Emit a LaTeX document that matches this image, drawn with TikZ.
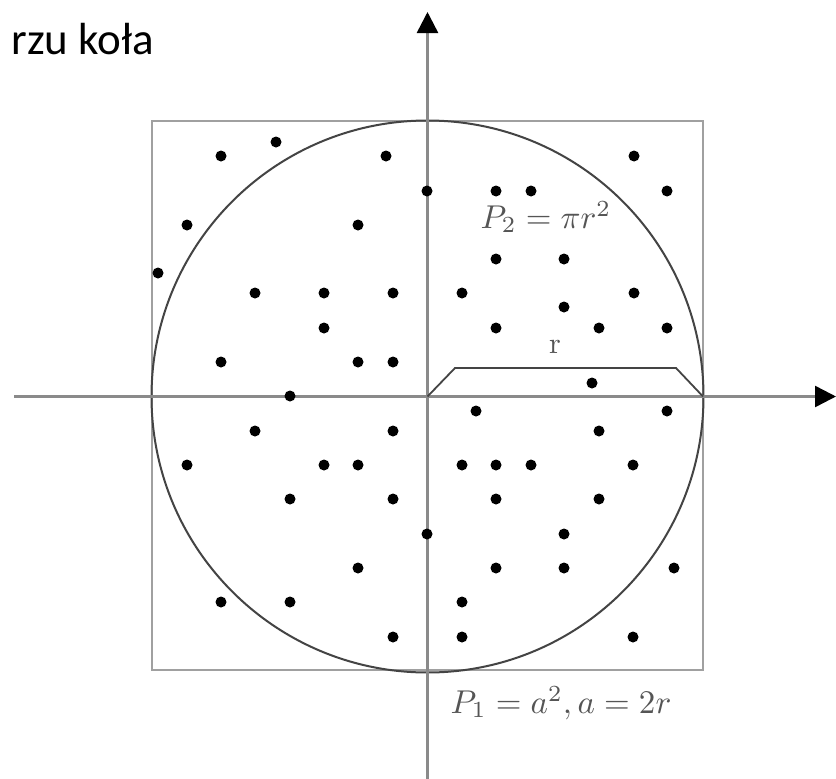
\documentclass[tikz,border=0pt]{standalone}
\usepackage{fontspec}
\newfontfamily\titlefont{Carlito}
\usetikzlibrary{arrows.meta}
\definecolor{sqgray}{HTML}{A0A0A0}
\definecolor{axgray}{HTML}{8A8A8A}
\definecolor{circgray}{HTML}{444444}
\definecolor{txtgray}{HTML}{555555}
\begin{document}
\begin{tikzpicture}[x=1pt,y=-1pt,
  dot/.style={circle,fill=black,inner sep=0pt,minimum size=11pt},
  axis/.style={draw=axgray,line width=2.5pt,-{Triangle[length=21pt,width=21pt,color=black]}},
  formula/.style={text=txtgray,inner sep=0pt,scale=3.3}]
\useasboundingbox[fill=white] (0,0) rectangle (836,779);
% title (cut off on the left)
\node[anchor=base east,inner sep=0pt,font=\titlefont\fontsize{45}{54}\selectfont] (title) at (154,54) {rzu koła};
% square and circle
\coordinate (O) at (427.5,396.5);
\draw[sqgray,line width=2.5pt] (152,121) rectangle (703,670);
\draw[circgray,line width=2pt] (O) circle[radius=276];
% axes
\coordinate (xs) at (14,396.5);
\coordinate (xe) at (836,396.5);
\coordinate (ys) at (427.5,779);
\coordinate (ye) at (427.5,12);
\draw[axis] (xs) -- (xe);
\draw[axis] (ys) -- (ye);
% radius bracket
\coordinate (r1) at (455,368);
\coordinate (r2) at (676,368);
\coordinate (R) at (703,396.5);
\draw[circgray,line width=1.8pt] (O) -- (r1) -- (r2) -- (R);
\node[anchor=base,text=txtgray,inner sep=0pt,scale=3] (rl) at (555,353) {r};
% formulas
\node[formula,anchor=base west] (p2) at (480,228) {$P_2=\pi r^2$};
\node[formula,anchor=base west] (p1) at (450,713) {$P_1=a^2,a=2r$};
% random points
\foreach \x/\y [count=\i] in {
221/156, 276/142, 386/156, 427/191, 187/225, 358/225, 158/273, 255/293, 324/293, 393/293, 324/328, 221/362, 358/362, 393/362, 290/396,
634/156, 496/191, 531/191, 667/191, 496/259, 564/259, 462/293, 634/293, 564/307, 496/328, 599/328, 667/328, 592/383,
255/431, 393/431, 187/465, 324/465, 358/465, 290/499, 393/499, 427/534, 358/568, 221/602, 290/602, 393/637,
476/411, 667/411, 599/431, 462/465, 496/465, 531/465, 633/465, 496/499, 599/499, 564/534, 496/568, 564/568, 674/568, 462/602, 462/637, 633/637}
  \node[dot] (d\i) at (\x,\y) {};
\end{tikzpicture}
\end{document}
